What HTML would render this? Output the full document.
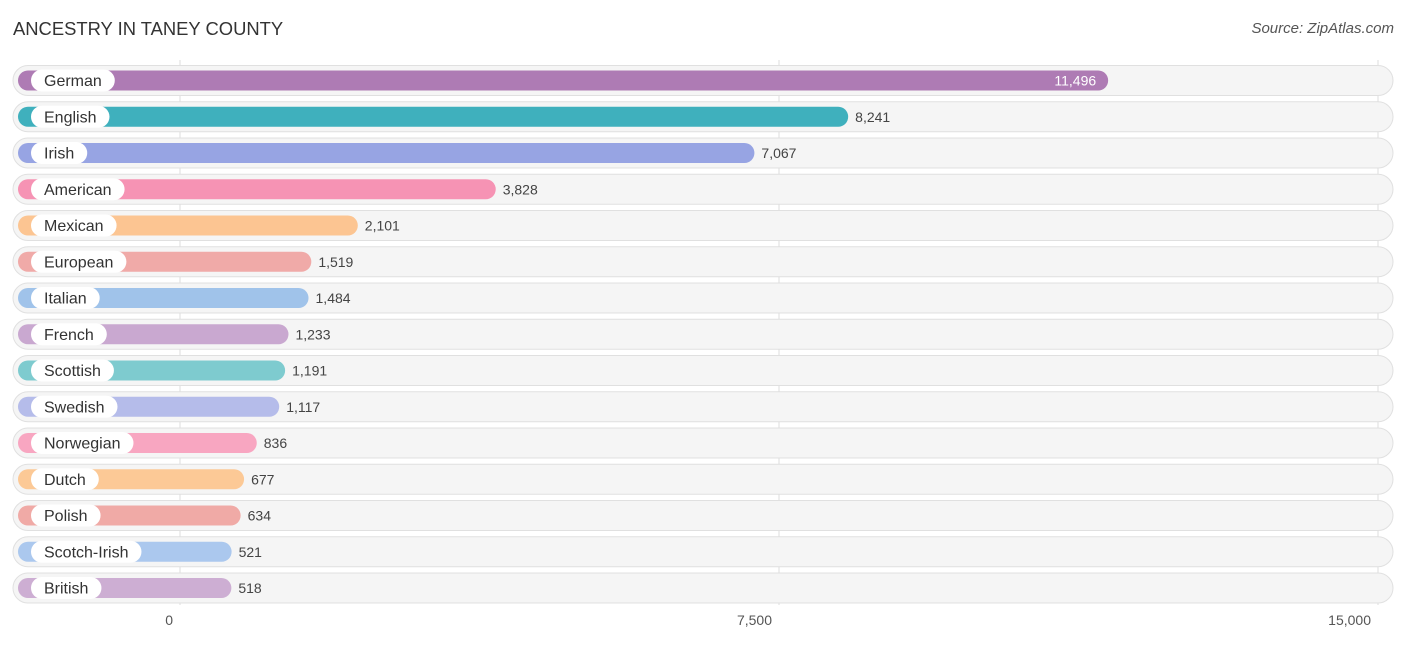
<!DOCTYPE html>
<html><head><meta charset="utf-8"><style>
body{margin:0;background:#fff;font-family:"Liberation Sans",sans-serif}
svg text{font-family:"Liberation Sans",sans-serif}
</style></head><body>
<svg id="c" width="1406" height="644">
<text x="13" y="35" font-size="18.4" fill="#333">ANCESTRY IN TANEY COUNTY</text>
<text x="1394" y="33" font-size="15" fill="#555" font-style="italic" text-anchor="end">Source: ZipAtlas.com</text>
<g id="grid"></g><g id="rows"></g><g id="ticks"></g>
</svg>
<script>
const categories=["German","English","Irish","American","Mexican","European","Italian","French","Scottish","Swedish","Norwegian","Dutch","Polish","Scotch-Irish","British"];
const values=[11496,8241,7067,3828,2101,1519,1484,1233,1191,1117,836,677,634,521,518];
const colors=["#ae7bb4","#3fb0bd","#97a4e3","#f693b4","#fcc592","#f0aaa8","#a0c3ea","#c9a8d0","#7ecbcf","#b5bcea","#f8a6c1","#fcc996","#f0aaa6","#abc8ee","#cdaed3"];
const tickValues=[0,7500,15000];
const tickLabels=["0","7,500","15,000"];
const NS="http://www.w3.org/2000/svg";
const x0=180,x1=1378,vmax=15000;
function xs(v){return x0+(x1-x0)*v/vmax;}
function ys(i){return 80.5+i*36.25;}
function mk(t,a,p){const e=document.createElementNS(NS,t);for(const k in a)e.setAttribute(k,a[k]);p.appendChild(e);return e;}
const grid=document.getElementById('grid'),rows=document.getElementById('rows'),ticks=document.getElementById('ticks');
tickValues.forEach((v,i)=>{
 const l=mk('line',{x1:xs(v),x2:xs(v),y1:60,y2:605,stroke:'#ddd','stroke-width':1},grid);
 
 
 const t=mk('text',{x:xs(v)-7,y:625,'font-size':14,fill:'#555','text-anchor':'end'},ticks);
 t.textContent=tickLabels[i];
 
 
});
categories.forEach((c,i)=>{
 const y=ys(i);
 const g=mk('g',{},rows);
 
 
 const bg=mk('rect',{x:13,y:y-15,width:1380,height:30,rx:15,fill:'#f5f5f5',stroke:'#e0e0e0','stroke-width':1},g);
 
 
 const end=xs(values[i])+10;
 const bar=mk('rect',{x:18,y:y-10,width:end-18,height:20,rx:10,fill:colors[i]},g);
 
 
 const lt=mk('text',{x:44,y:y+5.5,'font-size':16,fill:'#333'},g);
 lt.textContent=c;
 const w=lt.getComputedTextLength();
 const pill=mk('rect',{x:31,y:y-11,width:w+26,height:22,rx:11,fill:'#fff'},g);
 g.insertBefore(pill,lt);
 
 
 
 
 const inside=i==0;
 const vt=mk('text',{x:inside?end-12:end+7,y:y+5,'font-size':14,fill:inside?'#fff':'#444','text-anchor':inside?'end':'start'},g);
 vt.textContent=values[i].toLocaleString('en-US');
 
 
});
</script>
</body></html>
